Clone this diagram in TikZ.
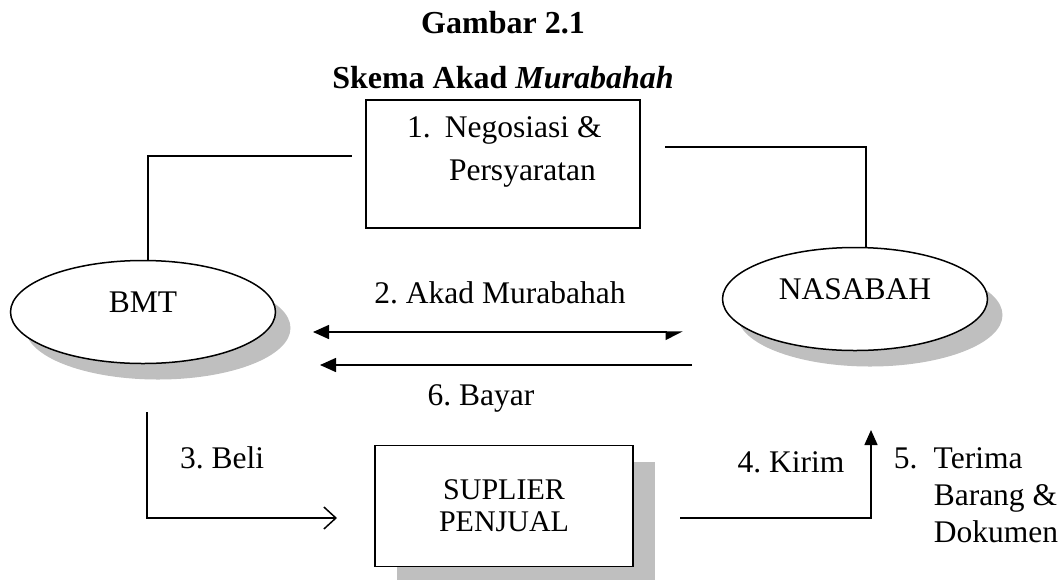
\documentclass[tikz,border=0pt]{standalone}
\usepackage{fontspec}
\setmainfont{Liberation Serif}
\usetikzlibrary{shapes.geometric,shadows,arrows.meta}
\frenchspacing
\newcommand{\bodySize}[0]{\fontsize{31.5}{37}\selectfont}
\newcommand{\titleSize}[0]{\fontsize{32}{38}\selectfont\bfseries}
\newcommand{\shadowGray}[0]{black!25}

\begin{document}
\begin{tikzpicture}[x=1pt, y=-1pt, line width=1.5pt]
  \tikzset{every node/.style={font=\bodySize, inner sep=0pt},
    party/.style={ellipse, draw, fill=white, minimum width=265pt, minimum height=103pt,
      text height=21pt, text depth=21pt,
      drop shadow={shadow xshift=15pt, shadow yshift=-16pt, fill=\shadowGray, opacity=1}},
    docbox/.style={draw, fill=white, inner sep=12pt},
    flow/.style={-{Triangle[length=16pt,width=14pt]}}}
  \useasboundingbox (0,0) rectangle (1059,579);
  \node[anchor=base] (title) at (503,33) {\titleSize Gambar 2.1};
  \node[anchor=base] (subtitle) at (503,88) {\titleSize Skema Akad \textit{Murabahah}};
  \node[party] (bmt) at (143,312) {BMT};
  \node[party] (nasabah) at (855,299) {NASABAH};
  \node[docbox] (nego) at (503,164) {\parbox[c][104pt][t]{250pt}{\fontsize{31.5}{43}\selectfont
      \rule{0pt}{25pt}\hspace*{29pt}\makebox[38pt][l]{1.}Negosiasi \&\\
      \hspace*{71pt}Persyaratan}};
  \node[docbox, minimum width=258pt, minimum height=121pt, align=center,
    font=\fontsize{30}{32}\selectfont,
    drop shadow={shadow xshift=22pt, shadow yshift=-16pt, fill=\shadowGray, opacity=1}]
    (suplier) at (504,506) {SUPLIER\\PENJUAL};
  \coordinate (negoIn) at (352,156);
  \coordinate (negoOut) at (665,147);
  \draw ([xshift=5pt]bmt.north) |- (negoIn);
  \draw (negoOut) -| ([xshift=11pt]nasabah.north);
  \coordinate (akadL) at (313,332);
  \coordinate (akadR) at (683,332);
  \draw[{Triangle[length=16pt,width=14pt]}-{Triangle[length=16pt,width=16pt,harpoon,swap]}]
    (akadL) -- (akadR);
  \coordinate (bayarR) at (692,365);
  \coordinate (bayarL) at (320,365);
  \draw[flow] (bayarR) -- (bayarL);
  \coordinate (beliTop) at (147,412);
  \coordinate (beliEnd) at (337,518);
  \draw[-{Straight Barb[length=12pt,width=22pt]}] (beliTop) |- (beliEnd);
  \coordinate (kirimStart) at (680,518);
  \coordinate (kirimEnd) at (871,430);
  \draw[-{Triangle[length=15pt,width=13pt]}] (kirimStart) -| (kirimEnd);
  \node[anchor=base] (akadLabel) at (500,303) {2. Akad Murabahah};
  \node[anchor=base] (bayarLabel) at (481,405) {6. Bayar};
  \node[anchor=base] (beliLabel) at (222,468) {3. Beli};
  \node[anchor=base] (kirimLabel) at (791,472) {4. Kirim};
  \node[anchor=base west] (terimaLabel) at (893,468)
    {\begin{tabular}[t]{@{}l@{}l@{}}\makebox[40pt][l]{5.}&Terima\\&Barang \&\\&Dokumen\end{tabular}};
\end{tikzpicture}
\end{document}
